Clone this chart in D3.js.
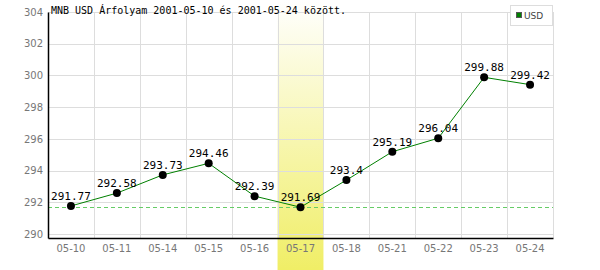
<!DOCTYPE html>
<html>
<head>
<meta charset="utf-8">
<script src="https://cdn.jsdelivr.net/npm/d3@7"></script>
<style>
  html, body { margin: 0; padding: 0; background: #fff; }
</style>
</head>
<body>
<script>
// data
const dates = ["05-10", "05-11", "05-14", "05-15", "05-16", "05-17", "05-18", "05-21", "05-22", "05-23", "05-24"];
const usd = [291.77, 292.58, 293.73, 294.46, 292.39, 291.69, 293.4, 295.19, 296.04, 299.88, 299.42];
const yTicks = [290, 292, 294, 296, 298, 300, 302, 304];
const highlight = "05-17";
const title = "MNB USD Árfolyam 2001-05-10 és 2001-05-24 között.";
const seriesName = "USD";

const width = 600, height = 270;
const marginLeft = 48, marginRight = 47, marginTop = 12, marginBottom = 32;

const x = d3.scaleBand()
  .domain(dates)
  .range([marginLeft, width - marginRight]);

const y = d3.scaleLinear()
  .domain([289.75, 304])
  .range([height - marginBottom, marginTop]);

const svg = d3.select("body").append("svg")
  .attr("width", width)
  .attr("height", height);

// highlight gradient
const defs = svg.append("defs");
const grad = defs.append("linearGradient")
  .attr("id", "hl-grad")
  .attr("x1", 0).attr("y1", 0).attr("x2", 0).attr("y2", 1);
grad.append("stop").attr("offset", "0%").attr("stop-color", "#ffffff");
grad.append("stop").attr("offset", "100%").attr("stop-color", "#f0ee66");

svg.append("rect")
  .attr("x", x(highlight))
  .attr("y", 0)
  .attr("width", x.bandwidth())
  .attr("height", height)
  .attr("fill", "url(#hl-grad)");

// grid
svg.append("g")
  .selectAll("line")
  .data(yTicks)
  .join("line")
    .attr("x1", marginLeft).attr("x2", width - marginRight)
    .attr("y1", d => Math.round(y(d)) + 0.5)
    .attr("y2", d => Math.round(y(d)) + 0.5)
    .attr("stroke", "#dddddd");

svg.append("g")
  .selectAll("line")
  .data(dates.slice(1).map(d => x(d)).concat([width - marginRight]))
  .join("line")
    .attr("x1", d => Math.round(d) + 0.5).attr("x2", d => Math.round(d) + 0.5)
    .attr("y1", y(304)).attr("y2", height - marginBottom)
    .attr("stroke", "#dddddd");

// reference line at minimum
svg.append("line")
  .attr("x1", marginLeft).attr("x2", width - marginRight)
  .attr("y1", Math.round(y(d3.min(usd))) + 0.5)
  .attr("y2", Math.round(y(d3.min(usd))) + 0.5)
  .attr("stroke", "#66cc66")
  .attr("stroke-dasharray", "4,3");

// axes
svg.append("g")
  .attr("transform", `translate(0,${height - marginBottom})`)
  .call(d3.axisBottom(x).tickSize(0).tickPadding(7))
  .call(g => g.select(".domain").attr("stroke", "#000").attr("stroke-width", 1.5))
  .call(g => g.selectAll("text")
    .style("font-family", "DejaVu Sans, sans-serif")
    .style("font-size", "10px")
    .attr("fill", "#777"));

svg.append("g")
  .attr("transform", `translate(${marginLeft},0)`)
  .call(d3.axisLeft(y).tickValues(yTicks).tickSize(0).tickPadding(5))
  .call(g => g.select(".domain").attr("stroke", "#000").attr("stroke-width", 1.5))
  .call(g => g.selectAll("text")
    .style("font-family", "DejaVu Sans, sans-serif")
    .style("font-size", "10px")
    .attr("fill", "#777"));

// line
const line = d3.line()
  .x((d, i) => x(dates[i]) + x.bandwidth() / 2)
  .y(d => y(d));

svg.append("path")
  .datum(usd)
  .attr("d", line)
  .attr("fill", "none")
  .attr("stroke", "#008000")
  .attr("stroke-width", 1);

svg.append("g")
  .selectAll("circle")
  .data(usd)
  .join("circle")
    .attr("cx", (d, i) => x(dates[i]) + x.bandwidth() / 2)
    .attr("cy", d => y(d))
    .attr("r", 4)
    .attr("fill", "#000");

svg.append("g")
  .selectAll("text")
  .data(usd)
  .join("text")
    .attr("x", (d, i) => x(dates[i]) + x.bandwidth() / 2)
    .attr("y", d => y(d) - 6)
    .attr("text-anchor", "middle")
    .style("font-family", "DejaVu Sans Mono, monospace")
    .style("font-size", "11px")
    .attr("fill", "#000")
    .text(d => d);

// title
svg.append("text")
  .attr("x", 51)
  .attr("y", 14)
  .style("font-family", "DejaVu Sans Mono, monospace")
  .style("font-size", "10px")
  .attr("fill", "#000")
  .text(title);

// legend
const legend = svg.append("g");
legend.append("rect")
  .attr("x", 510.5).attr("y", 5.5)
  .attr("width", 42).attr("height", 20)
  .attr("fill", "#fff")
  .attr("stroke", "#dddddd");
legend.append("rect")
  .attr("x", 516.5).attr("y", 12.5)
  .attr("width", 5).attr("height", 5)
  .attr("fill", "#008000")
  .attr("stroke", "#555");
legend.append("text")
  .attr("x", 524).attr("y", 19)
  .style("font-family", "DejaVu Sans, sans-serif")
  .style("font-size", "9px")
  .attr("fill", "#444")
  .text(seriesName);
</script>
</body>
</html>
